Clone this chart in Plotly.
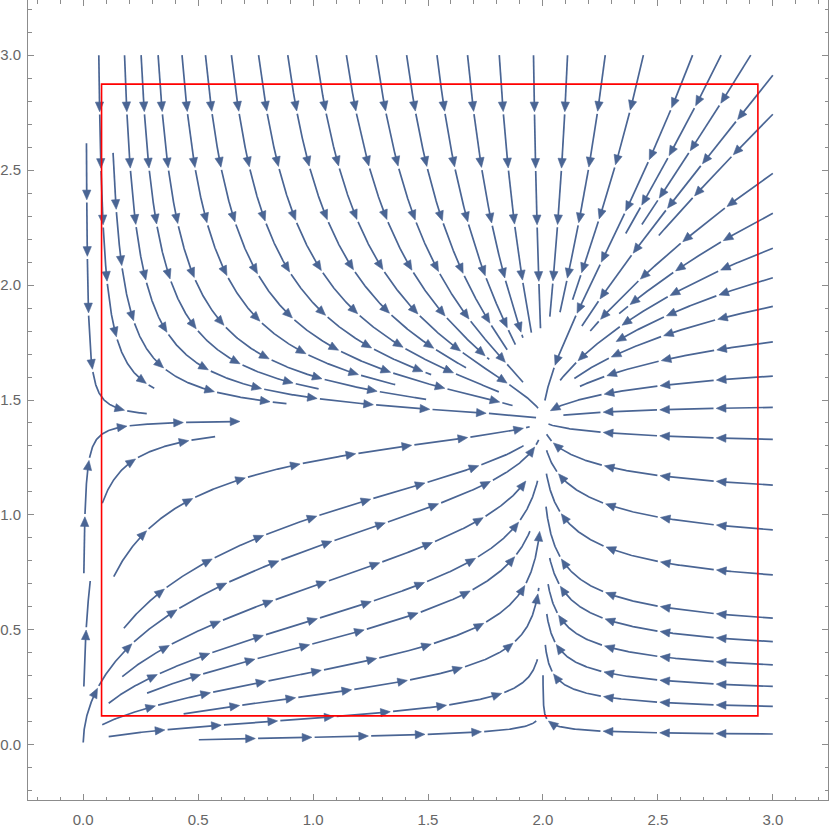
import math
import numpy as np
import plotly.graph_objects as go

# ---------------- data ----------------
# vector field: x' = x (A - x^2), y' = y (B - y^2)
A_COEF = 4.0
B_COEF = 2.0

# streamline seeds (and where a few of them stop, in x)
# seeds traced first (they have priority near the y = 1.41 line on the left)
early_seed_x = [0.003, 0.083]
early_seed_y = [0.746, 1.051]
early_stop_x = [0.698, 0.575]

top_seed_x = [0.068, 0.180, 0.252, 0.326, 0.430, 0.532, 0.645, 0.763, 0.890,
              1.014, 1.145, 1.275, 1.407, 1.539, 1.672, 1.810, 1.959, 2.107,
              2.271, 2.437, 2.651, 2.775, 2.904]
top_stop_x = [0.31] + [None] * 22
TOP_Y = 3.0
right_seed_y = [2.913, 2.743, 2.486, 2.312, 2.160, 2.032, 1.907, 1.753, 1.604,
                1.468, 1.329, 1.130, 0.935, 0.739, 0.551, 0.449, 0.348, 0.254,
                0.167, 0.047]
right_stop_x = [None] * 20
RIGHT_X = 3.0
inner_seed_x = [0.0143, 0.130, 0.003, 0.0001, 0.111, 0.503, 0.083,
                0.111, 0.170, 0.177, 0.278, 0.437, 0.133]
inner_seed_y = [2.617, 2.575, 0.2535, 0.010, 0.036, 0.022, 0.087,
                0.181, 0.297, 0.507, 0.225, 0.135, 0.732]
inner_stop_x = [0.278, None, None, None, None, None, None,
                None, None, None, None, None, None]

rect_x = [0.08, 2.935]
rect_y = [0.126, 2.874]

tick_vals = [0.0, 0.5, 1.0, 1.5, 2.0, 2.5, 3.0]
tick_text = ["0.0", "0.5", "1.0", "1.5", "2.0", "2.5", "3.0"]
axis_range = [-0.24, 3.24]

STREAM_COLOR = "rgb(74,101,148)"

# ---------------- stream tracing ----------------
STEP = 0.004
D_TEST = 0.042
R_FP = 0.03
GRACE = 0.03
MAX_LEN = 8.0
FP = (math.sqrt(A_COEF), math.sqrt(B_COEF))

grid = {}
cell = D_TEST


def unit(x, y):
    u = x * (A_COEF - x * x)
    v = y * (B_COEF - y * y)
    n = math.hypot(u, v)
    if n < 1e-14:
        return 0.0, 0.0
    return u / n, v / n


def near(x, y):
    ci, cj = int(math.floor(x / cell)), int(math.floor(y / cell))
    d2 = D_TEST * D_TEST
    for di in (-1, 0, 1):
        for dj in (-1, 0, 1):
            pts = grid.get((ci + di, cj + dj))
            if pts:
                for (px, py) in pts:
                    if (px - x) ** 2 + (py - y) ** 2 < d2:
                        return True
    return False


def add(points):
    for (x, y) in points:
        key = (int(math.floor(x / cell)), int(math.floor(y / cell)))
        grid.setdefault(key, []).append((x, y))


def trace(x0, y0, stop_x=None):
    pts = [(x0, y0)]
    x, y = x0, y0
    s = 0.0
    h = STEP
    while s < MAX_LEN:
        k1 = unit(x, y)
        k2 = unit(x + 0.5 * h * k1[0], y + 0.5 * h * k1[1])
        k3 = unit(x + 0.5 * h * k2[0], y + 0.5 * h * k2[1])
        k4 = unit(x + h * k3[0], y + h * k3[1])
        nx = x + h / 6 * (k1[0] + 2 * k2[0] + 2 * k3[0] + k4[0])
        ny = y + h / 6 * (k1[1] + 2 * k2[1] + 2 * k3[1] + k4[1])
        if nx < 0 or ny < 0 or nx > 3.0001 or ny > 3.0001:
            break
        if stop_x is not None and nx > stop_x:
            break
        if math.hypot(nx - FP[0], ny - FP[1]) < R_FP:
            break
        s += h
        if s > GRACE and near(nx, ny):
            break
        x, y = nx, ny
        pts.append((x, y))
    return pts


seeds = list(zip(early_seed_x, early_seed_y, early_stop_x))
seeds += [(sx, TOP_Y, st) for sx, st in zip(top_seed_x, top_stop_x)]
seeds += [(RIGHT_X, sy, st) for sy, st in zip(right_seed_y, right_stop_x)]
seeds += list(zip(inner_seed_x, inner_seed_y, inner_stop_x))

streams = []
for (sx, sy, st) in seeds:
    p = trace(sx, sy, st)
    if len(p) > 3:
        streams.append(p)
        add(p)

# ---------------- segment + arrow geometry ----------------
SEG = 0.246
GAP = 0.012
AH_LEN = 0.042
AH_HW = 0.018

lx, ly, ax_, ay_ = [], [], [], []

for pts in streams:
    P = np.array(pts)
    d = np.hypot(np.diff(P[:, 0]), np.diff(P[:, 1]))
    s = np.concatenate([[0.0], np.cumsum(d)])
    S = s[-1]
    if S < 0.02:
        continue

    def at(t):
        return float(np.interp(t, s, P[:, 0])), float(np.interp(t, s, P[:, 1]))

    def piece(t0, t1):
        if t1 <= t0:
            return
        mask = (s > t0) & (s < t1)
        xs = [at(t0)[0]] + list(P[mask, 0]) + [at(t1)[0]]
        ys = [at(t0)[1]] + list(P[mask, 1]) + [at(t1)[1]]
        lx.extend(xs + [None])
        ly.extend(ys + [None])

    start = 0.0
    k = 1
    while k * SEG <= S:
        end = k * SEG
        piece(start, end - AH_LEN * 0.6)
        tx, ty = at(end)
        bx, by = at(max(end - 0.02, 0.0))
        dx, dy = tx - bx, ty - by
        n = math.hypot(dx, dy) or 1.0
        dx, dy = dx / n, dy / n
        cx, cy = tx - dx * AH_LEN, ty - dy * AH_LEN
        px, py = -dy, dx
        ax_.extend([tx, cx + px * AH_HW, cx - px * AH_HW, tx, None])
        ay_.extend([ty, cy + py * AH_HW, cy - py * AH_HW, ty, None])
        start = end + GAP
        k += 1
    if S - start > 0.01:
        piece(start, S)

# ---------------- figure ----------------
fig = go.Figure()
fig.add_trace(go.Scatter(x=lx, y=ly, mode="lines",
                         line=dict(color=STREAM_COLOR, width=1.7),
                         hoverinfo="skip", showlegend=False))
fig.add_trace(go.Scatter(x=ax_, y=ay_, mode="lines", fill="toself",
                         fillcolor=STREAM_COLOR,
                         line=dict(color=STREAM_COLOR, width=0.6),
                         hoverinfo="skip", showlegend=False))

fig.add_shape(type="rect", x0=rect_x[0], x1=rect_x[1], y0=rect_y[0], y1=rect_y[1],
              line=dict(color="red", width=1.6), layer="above")

axis_common = dict(
    range=axis_range, showgrid=False, zeroline=False, automargin=False,
    showline=True, linecolor="#8c8c8c", linewidth=1, mirror="allticks",
    ticks="inside", ticklen=6, tickwidth=1, tickcolor="#8c8c8c",
    tickvals=tick_vals, ticktext=tick_text,
    tickfont=dict(family="Liberation Sans, Arial, sans-serif", size=15, color="#666666"),
    minor=dict(tick0=0, dtick=0.1, ticks="inside", ticklen=3.5,
               tickcolor="#8c8c8c", showgrid=False),
)
fig.update_xaxes(**axis_common, ticklabelstandoff=6)
fig.update_yaxes(**axis_common, ticklabelstandoff=3)

fig.update_layout(width=830, height=827,
                  margin=dict(l=28, r=2, t=0, b=27, autoexpand=False),
                  plot_bgcolor="white", paper_bgcolor="white",
                  showlegend=False, hovermode=False)

fig.write_html("out.html",
               config={"displayModeBar": False},
               post_script="document.body.style.margin='0';"
                           "document.body.style.overflow='hidden';")
